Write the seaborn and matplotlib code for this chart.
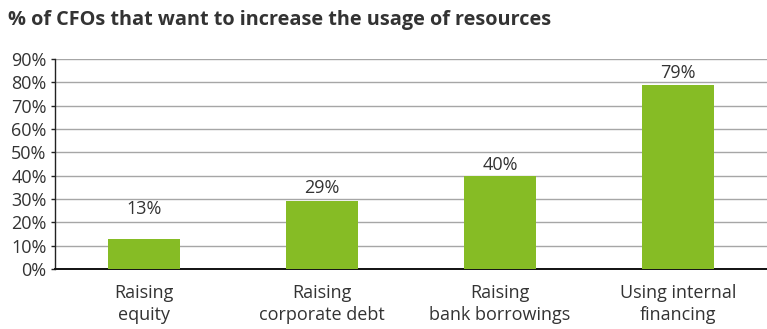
import matplotlib
matplotlib.use("Agg")
import matplotlib.pyplot as plt
import seaborn as sns
import pandas as pd

categories = ["Raising\nequity", "Raising\ncorporate debt", "Raising\nbank borrowings", "Using internal\nfinancing"]
values = [13, 29, 40, 79]
value_labels = ["13%", "29%", "40%", "79%"]
y_ticks = [0, 10, 20, 30, 40, 50, 60, 70, 80, 90]
y_tick_labels = [f"{t}%" for t in y_ticks]
title = "% of CFOs that want to increase the usage of resources"

sns.set_theme(style="white")
plt.rcParams["font.family"] = ["Open Sans", "DejaVu Sans"]

df = pd.DataFrame({"category": categories, "value": values})

fig = plt.figure(figsize=(7.67, 3.29), dpi=100)
ax = fig.add_axes([55 / 767, 60 / 329, 712 / 767, 210 / 329])

sns.barplot(data=df, x="category", y="value", color="#86BC25", width=0.4,
            saturation=1, linewidth=0, edgecolor="none", ax=ax, zorder=3)

ax.set_ylim(0, 90)
ax.set_yticks(y_ticks)
ax.set_yticklabels(y_tick_labels, fontsize=13, color="#333333")
ax.yaxis.grid(True, color="#a6a6a6", linewidth=1, zorder=0)
ax.set_axisbelow(True)
ax.set_xlabel("")
ax.set_ylabel("")
ax.tick_params(axis="x", length=0, pad=11, labelsize=13, labelcolor="#333333")
ax.tick_params(axis="y", length=3, width=1, color="#222222", pad=3, left=True)
for s in ["top", "right"]:
    ax.spines[s].set_visible(False)
ax.spines["left"].set_color("#222222")
ax.spines["left"].set_linewidth(1)
ax.spines["bottom"].set_color("#111111")
ax.spines["bottom"].set_linewidth(1.4)
for lbl in ax.get_xticklabels():
    lbl.set_linespacing(1.25)

label_offsets = [15, 3, 1, 2]
for i, (v, t) in enumerate(zip(values, value_labels)):
    ax.annotate(t, xy=(i, v), xytext=(0, label_offsets[i]), textcoords="offset points",
                ha="center", va="bottom", fontsize=13, color="#333333")

fig.text(8 / 767, 1 - 20 / 329, title, fontsize=14.3, fontweight="bold",
         color="#333333", ha="left", va="center")

fig.savefig("out.png", dpi=100)
